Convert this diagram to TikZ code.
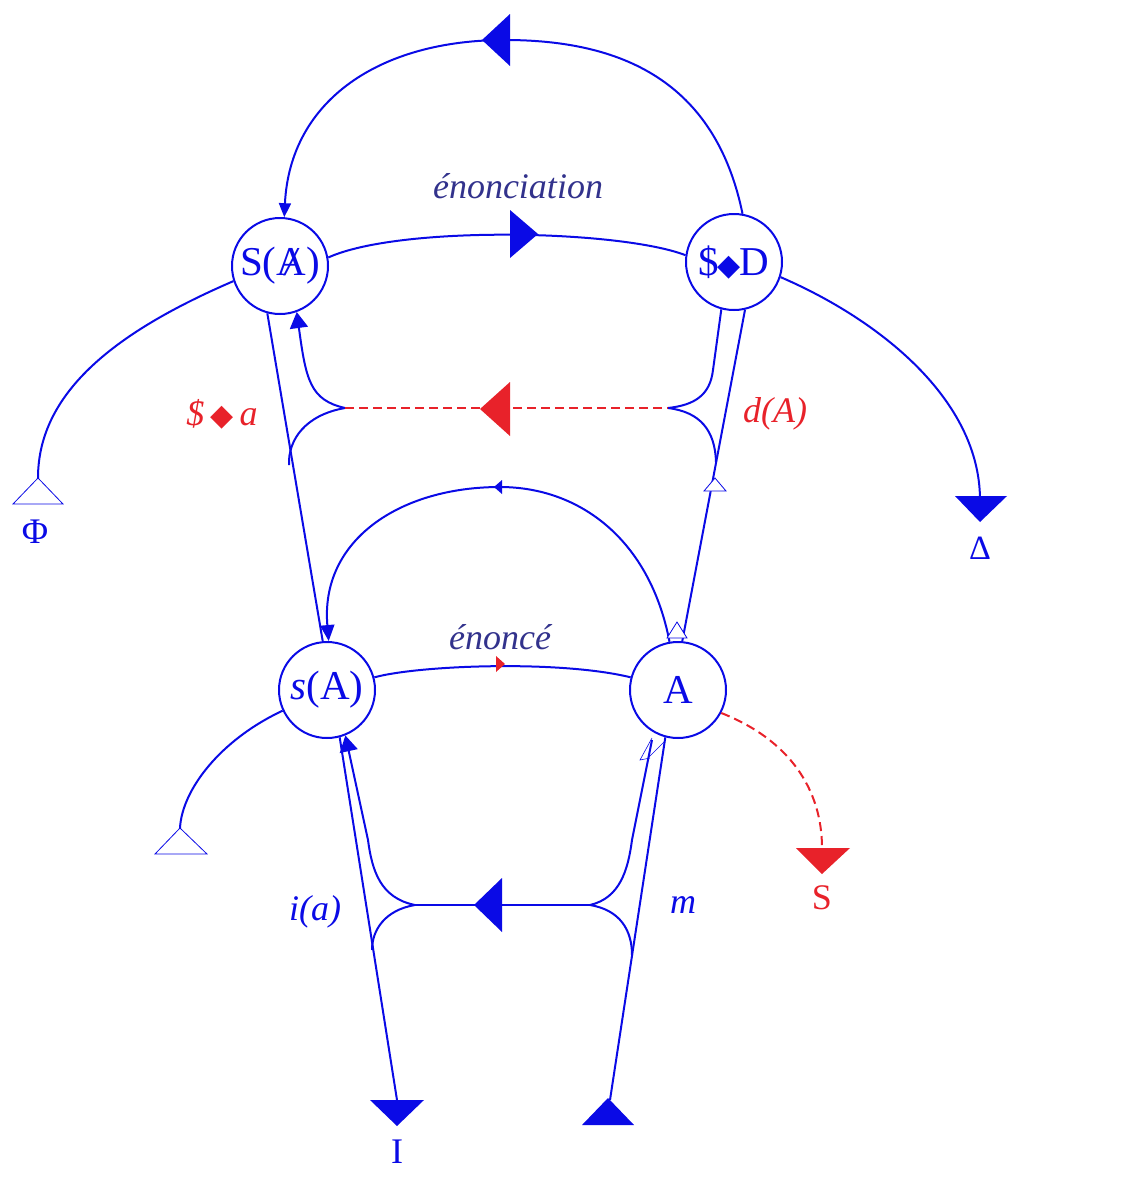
\documentclass[tikz,border=0pt]{standalone}
\usepackage{fontspec}
\setmainfont{Liberation Serif}
\newfontfamily\djsym{DejaVu Sans}
\usetikzlibrary{arrows.meta}
\definecolor{lb}{RGB}{10,10,230}
\definecolor{lr}{RGB}{232,34,42}
\definecolor{ld}{RGB}{50,50,140}
\newcommand{\barA}{\ooalign{A\cr\hidewidth\itshape/\hidewidth}}
\newcommand{\dia}{{\djsym\fontsize{30}{30}\selectfont ◆}}
\begin{document}
\begin{tikzpicture}[x=1pt,y=-1pt,
  cir/.style={circle,draw=lb,line width=2pt,minimum size=96pt,inner sep=0pt,text=lb,font=\fontsize{41}{41}\selectfont},
  ln/.style={draw=lb,line width=2pt},
  rd/.style={draw=lr,line width=2pt,dash pattern=on 9pt off 5pt},
  lab/.style={font=\fontsize{36}{36}\selectfont\itshape},
  ft/.style={fill=lb},
  ot/.style={draw=lb,fill=white,line width=0.8pt}]
\useasboundingbox (0,0) rectangle (1140,1194);
\node[cir] (SA) at (280,266) {S(\barA)};
\node[cir] (SD) at (734,262) {\$\kern-1pt\dia\kern-1pt D};
\node[cir] (sA) at (327,690) {\textit{s}(A)};
\node[cir] (A) at (678,690) {A};
% top arc
\draw[ln,-{Triangle[length=14pt,width=12pt]}] (SD.80) .. controls (715,80) and (620,40) .. (505,40) .. controls (380,40) and (290,100) .. (SA.85);
\fill[ft] (510,14) -- (510,66) -- (482,40) -- cycle;
% enonciation
\draw[ln] (SA.10) .. controls (400,225) and (620,230) .. (SD.172);
\fill[ft] (510,210) -- (510,258) -- (538,234) -- cycle;
\node[lab,text=ld] (t1) at (518,186) {énonciation};
% left and right hooks
\coordinate (phi) at (38,478);
\draw[ln] (SA.198) .. controls (120,330) and (38,390) .. (phi);
\draw[ot] (38,478) -- (13,504) -- (63,504) -- cycle;
\node[text=lb,font=\fontsize{36}{36}\selectfont] (Phi) at (35,532) {Φ};
\coordinate (del) at (980,500);
\draw[ln] (SD.-18) .. controls (880,320) and (980,400) .. (del);
\fill[ft] (955,496) -- (1007,496) -- (980,522) -- cycle;
\node[text=lb,font=\fontsize{34}{34}\selectfont] (Del) at (980,548) {Δ};
% verticals
\draw[ln] (SA.255) -- (sA.95);
\draw[ln] (SD.283) -- (A.85);
% upper cusp structure
\coordinate (cl) at (345,408);
\coordinate (cr) at (668,408);
\draw[ln,-{Triangle[length=16pt,width=18pt]}] (cl) .. controls (310,400) and (306,380) .. (SA.290);
\draw[ln] (cl) .. controls (305,415) and (288,440) .. (289,465);
\draw[ln] (SD.255) -- (713,370) .. controls (710,395) and (695,405) .. (cr);
\draw[ln] (cr) .. controls (700,412) and (715,430) .. (716,462);
\draw[rd] (cl) -- (cr);
\fill[lr] (510,382) -- (510,436) -- (480,409) -- cycle;
\draw[ot] (715,478) -- (704,491) -- (726,491) -- cycle;
\node[lab,text=lr] (sa) at (222,414) {\$\,{\upshape\dia}\,\textit{a}};
\node[lab,text=lr] (dA) at (775,414) {d(A)};
% middle arc
\draw[ln,-{Triangle[length=16pt,width=14pt]}] (A.100) .. controls (650,540) and (580,487) .. (500,487) .. controls (400,487) and (320,540) .. (sA.88);
\fill[ft] (502,480) -- (502,494) -- (494,487) -- cycle;
\draw[ot] (677,622) -- (667,638) -- (687,638) -- cycle;
% enonce
\draw[ln] (sA.15) .. controls (420,665) and (560,660) .. (A.165);
\fill[lr] (496,656) -- (496,672) -- (505,664) -- cycle;
\node[lab,text=ld] (t2) at (500,637) {énoncé};
% s(A) hook
\draw[ln] (sA.205) .. controls (220,740) and (182,790) .. (180,828);
\draw[ot] (180,828) -- (155,854) -- (207,854) -- cycle;
% red dashed to S
\draw[rd] (A.-28) .. controls (790,740) and (822,790) .. (822,848);
\fill[lr] (796,848) -- (850,848) -- (822,874) -- cycle;
\node[text=lr,font=\fontsize{36}{36}\selectfont] (S) at (822,898) {S};
% lower lines
\coordinate (I) at (397,1100);
\draw[ln] (sA.285) -- (I);
\fill[ft] (370,1100) -- (424,1100) -- (397,1126) -- cycle;
\node[text=lb,font=\fontsize{36}{36}\selectfont] (Il) at (397,1152) {I};
\coordinate (Up) at (610,1100);
\draw[ln] (A.255) -- (Up);
\fill[ft] (608,1098) -- (582,1125) -- (634,1125) -- cycle;
% lower cusp structure
\coordinate (dl) at (415,905);
\coordinate (dr) at (590,905);
\draw[ln,-{Triangle[length=16pt,width=18pt]}] (dl) .. controls (380,898) and (372,870) .. (368,840) -- (sA.292);
\draw[ln] (dl) .. controls (385,910) and (372,930) .. (372,950);
\draw[ln] (dl) -- (dr);
\fill[ft] (502,878) -- (502,932) -- (474,905) -- cycle;
\draw[ln] (dr) .. controls (620,898) and (628,870) .. (632,840) -- (652,740);
\draw[ln] (dr) .. controls (620,910) and (632,930) .. (632,955);
\draw[lb,line width=0.6pt] (652,738) -- (640,760) -- (650,758);
\draw[lb,line width=0.6pt] (664,742) -- (648,758);
\node[lab,text=lb] (ia) at (315,912) {i(a)};
\node[lab,text=lb] (m) at (683,905) {m};
\end{tikzpicture}
\end{document}
